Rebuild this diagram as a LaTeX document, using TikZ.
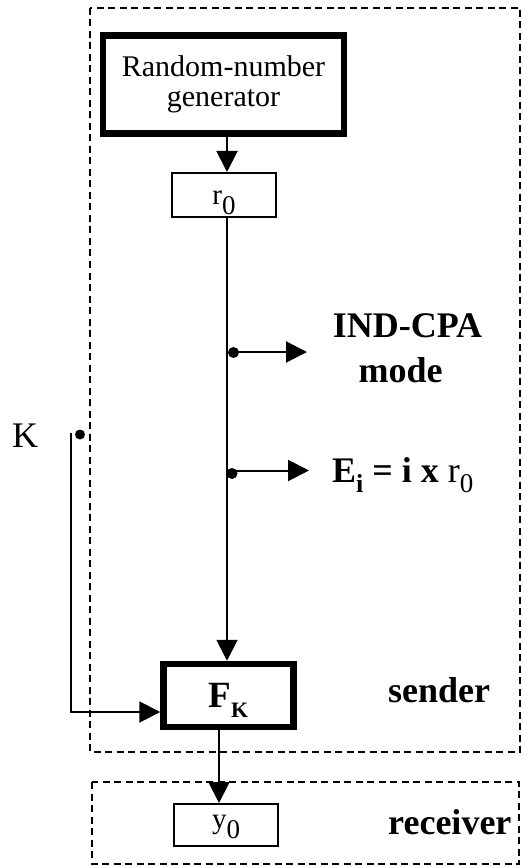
\documentclass[tikz,border=0pt]{standalone}
\usepackage{fontspec}
\setmainfont{Liberation Serif}
\usetikzlibrary{arrows.meta}
\newcommand\lsub[3]{\raisebox{-#2pt}{\fontsize{#1}{#1}\selectfont #3}}
\begin{document}
\begin{tikzpicture}[x=1pt,y=-1pt,
  thin line/.style={line width=2pt},
  thick box/.style={draw,line width=6.5pt,inner sep=0pt},
  plain box/.style={draw,line width=2pt,inner sep=0pt},
  dash box/.style={draw,line width=1.6pt,dash pattern=on 7pt off 4.5pt},
  arr/.style={thin line,-{Triangle[length=21pt,width=21pt]}},
  big/.style={font=\fontsize{36}{40}\selectfont,inner sep=0pt},
  lbl/.style={font=\fontsize{36}{40}\selectfont\bfseries,inner sep=0pt},
  dot/.style={circle,fill,inner sep=0pt,minimum size=11pt}]
\useasboundingbox (0,0) rectangle (522,866);
% dashed regions
\draw[dash box] (90,8) rectangle (520,752);
\draw[dash box] (92,782) rectangle (519,864);
% boxes
\node[thick box,minimum width=241pt,minimum height=98pt,align=center,
  font=\fontsize{30}{30}\selectfont] (rng) at (223.5,84.5) {Random-number\\generator};
\node[plain box,minimum width=104pt,minimum height=44pt,text height=20pt,text depth=0pt,
  font=\fontsize{29}{30}\selectfont] (r0) at (224,195) {r\lsub{27}{10}{0}};
\node[thick box,minimum width=130pt,minimum height=63pt,text height=23pt,text depth=0pt,
  font=\fontsize{37}{40}\selectfont\bfseries] (fk) at (228.5,695.5) {F\lsub{22}{10}{K}};
\node[plain box,minimum width=104pt,minimum height=42pt,text height=15pt,text depth=9pt,
  font=\fontsize{29}{30}\selectfont] (y0) at (226,825) {y\lsub{27}{10}{0}};
% main vertical line position
\coordinate (mx) at (227,0);
\coordinate (ox) at (219,0);
% connectors
\draw[arr] (rng.south -| mx) -- (r0.north -| mx);
\draw[arr] (r0.south -| mx) -- (fk.north -| mx);
\draw[arr] (fk.south -| ox) -- (y0.north -| ox);
% taps
\node[dot] (d1) at (233.5,352.5) {};
\node[dot] (d2) at (232,473.5) {};
\coordinate (a1) at (307,352);
\coordinate (a2) at (309,470.5);
\draw[arr] (d1.center |- a1) -- (a1);
\draw[arr] (d2.center |- a2) -- (a2);
\node[lbl,anchor=base] (ind) at (407.5,337) {IND-CPA};
\node[lbl,anchor=base] (mode) at (400.5,382) {mode};
\node[lbl,anchor=base west] (ei) at (332,482) {E\lsub{26}{10}{i} = i x \mdseries r\lsub{27}{10}{0}};
% key
\node[big,anchor=base west] (k) at (12,447) {K};
\node[dot,minimum size=10pt] (kd) at (80,434.5) {};
\coordinate (kt) at (71,433);
\draw[arr] (kt) |- (fk.west |- 0,712);
% region labels
\node[lbl,anchor=base west] (snd) at (388,702) {sender};
\node[lbl,anchor=base west] (rcv) at (388,834) {receiver};
\end{tikzpicture}
\end{document}
